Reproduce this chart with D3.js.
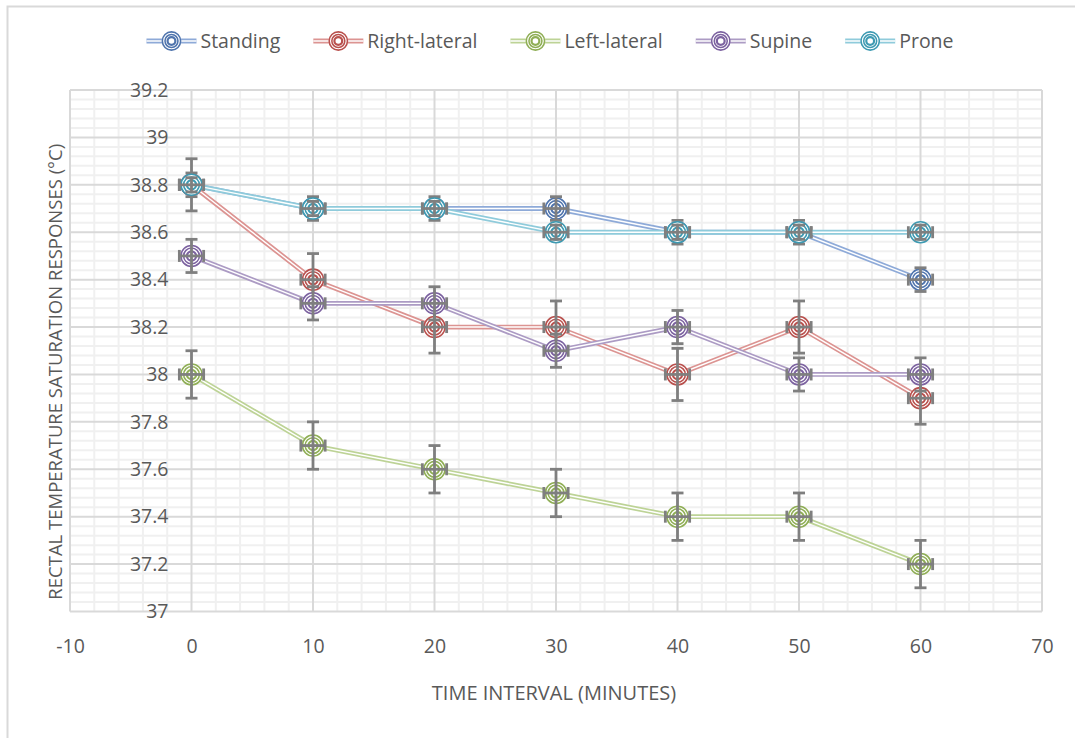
<!DOCTYPE html>
<html>
<head>
<meta charset="utf-8">
<script src="https://cdn.jsdelivr.net/npm/d3@7/dist/d3.min.js"></script>
<style>
  html, body { margin: 0; padding: 0; background: #fff; }
  svg { display: block; font-family: "Open Sans", "Liberation Sans", sans-serif; }
</style>
</head>
<body>
<svg id="chart" width="1075" height="738"></svg>
<script>
// Time points (minutes)
const minutes = [0, 10, 20, 30, 40, 50, 60];

// Mean rectal temperature per posture (°C)
const standing     = [38.8, 38.7, 38.7, 38.7, 38.6, 38.6, 38.4];
const rightLateral = [38.8, 38.4, 38.2, 38.2, 38.0, 38.2, 37.9];
const leftLateral  = [38.0, 37.7, 37.6, 37.5, 37.4, 37.4, 37.2];
const supine       = [38.5, 38.3, 38.3, 38.1, 38.2, 38.0, 38.0];
const prone        = [38.8, 38.7, 38.7, 38.6, 38.6, 38.6, 38.6];

// Vertical error (±°C) per posture, horizontal error (±minutes)
const yErrors = [0.05, 0.11, 0.10, 0.07, 0.03];
const xError = 1;

const seriesNames = ["Standing", "Right-lateral", "Left-lateral", "Supine", "Prone"];
const seriesValues = [standing, rightLateral, leftLateral, supine, prone];
const lineColors   = ["#8eaad8", "#dc9492", "#bdd396", "#ac9bc4", "#8fcbdb"];
const markerColors = ["#4f74ad", "#b9504d", "#8fae55", "#7c62a0", "#3e9ab2"];

const xTicks = ["-10", "0", "10", "20", "30", "40", "50", "60", "70"];
const yTicks = ["37", "37.2", "37.4", "37.6", "37.8", "38", "38.2", "38.4", "38.6", "38.8", "39", "39.2"];

const xTitle = "TIME INTERVAL (MINUTES)";
const yTitle = "RECTAL TEMPERATURE SATURATION RESPONSES (°C)";

const series = seriesNames.map((name, i) => ({
  name,
  err: yErrors[i],
  line: lineColors[i],
  marker: markerColors[i],
  points: minutes.map((m, j) => ({ x: m, y: seriesValues[i][j] }))
}));

const svg = d3.select("#chart");
const W = 1075, H = 738;
const plot = { left: 70, right: 1042, top: 90, bottom: 611.5 };

const x = d3.scaleLinear().domain([-10, 70]).range([plot.left, plot.right]);
const y = d3.scaleLinear().domain([37, 39.2]).range([plot.bottom, plot.top]);

// Chart frame
svg.append("rect")
  .attr("x", 7.5).attr("y", 6.5)
  .attr("width", W + 20).attr("height", H + 20)
  .attr("fill", "#fff").attr("stroke", "#d9d9d9").attr("stroke-width", 2);

// Minor gridlines
const grid = svg.append("g");
const minorX = d3.range(-10, 70.001, 2).filter(v => v % 10 !== 0);
const minorY = d3.range(0, 56).map(i => 37 + i * 0.04).filter((v, i) => i % 5 !== 0);
grid.selectAll(".mx").data(minorX).join("line")
  .attr("x1", d => x(d)).attr("x2", d => x(d))
  .attr("y1", plot.top).attr("y2", plot.bottom)
  .attr("stroke", "#f0f0f0").attr("stroke-width", 2);
grid.selectAll(".my").data(minorY).join("line")
  .attr("x1", plot.left).attr("x2", plot.right)
  .attr("y1", d => y(d)).attr("y2", d => y(d))
  .attr("stroke", "#f0f0f0").attr("stroke-width", 2);

// Major gridlines
grid.selectAll(".Mx").data(xTicks).join("line")
  .attr("x1", d => x(+d)).attr("x2", d => x(+d))
  .attr("y1", plot.top).attr("y2", plot.bottom)
  .attr("stroke", "#d9d9d9").attr("stroke-width", 2);
grid.selectAll(".My").data(yTicks).join("line")
  .attr("x1", plot.left).attr("x2", plot.right)
  .attr("y1", d => y(+d)).attr("y2", d => y(+d))
  .attr("stroke", "#d9d9d9").attr("stroke-width", 2);

// Axes (labels only; the vertical axis crosses at x = 0)
const tickFont = "19.5px";
const yAxis = svg.append("g")
  .attr("transform", `translate(${x(0)},0)`)
  .call(d3.axisLeft(y).tickValues(yTicks.map(Number)).tickFormat((d, i) => yTicks[i]).tickSize(0).tickPadding(23));
const xAxis = svg.append("g")
  .attr("transform", `translate(0,${plot.bottom})`)
  .call(d3.axisBottom(x).tickValues(xTicks.map(Number)).tickFormat((d, i) => xTicks[i]).tickSize(0).tickPadding(28));
[yAxis, xAxis].forEach(a => {
  a.select(".domain").remove();
  a.selectAll("text").attr("fill", "#595959").style("font-size", tickFont).style("font-family", "Open Sans");
});

// Axis titles
svg.append("text")
  .attr("x", (plot.left + plot.right) / 2 - 2).attr("y", 700)
  .attr("text-anchor", "middle").attr("fill", "#595959")
  .style("font-size", "20px").text(xTitle);
svg.append("text")
  .attr("transform", `translate(62,${(plot.top + plot.bottom) / 2 + 21}) rotate(-90)`)
  .attr("text-anchor", "middle").attr("fill", "#595959")
  .style("font-size", "18.5px").text(yTitle);

// Double-stroke helpers
function doubleLine(sel, color, width) {
  sel.attr("fill", "none").attr("stroke", color).attr("stroke-width", width);
}
function drawMarker(g, cx, cy, color, r) {
  g.append("circle").attr("cx", cx).attr("cy", cy).attr("r", r)
    .attr("fill", "#fff").attr("stroke", color).attr("stroke-width", 4.2);
  g.append("circle").attr("cx", cx).attr("cy", cy).attr("r", r)
    .attr("fill", "none").attr("stroke", "#fff").attr("stroke-width", 1.1);
  g.append("circle").attr("cx", cx).attr("cy", cy).attr("r", r * 0.5)
    .attr("fill", "none").attr("stroke", color).attr("stroke-width", 2.2);
}

const line = d3.line().x(d => x(d.x)).y(d => y(d.y));
const layer = svg.append("g");

series.forEach(s => {
  const g = layer.append("g");
  g.append("path").datum(s.points).attr("d", line).call(doubleLine, s.line, 4.8);
  g.append("path").datum(s.points).attr("d", line).call(doubleLine, "#fff", 1.4);

  s.points.forEach(p => drawMarker(g, x(p.x), y(p.y), s.marker, 9.2));

  // Error bars
  const eb = g.append("g").attr("stroke", "#7f7f7f").attr("stroke-width", 2.8).attr("fill", "none");
  const cap = 6;
  s.points.forEach(p => {
    const cx = x(p.x), cy = y(p.y);
    const y0 = y(p.y - s.err), y1 = y(p.y + s.err);
    const x0 = x(p.x - xError), x1 = x(p.x + xError);
    eb.append("line").attr("x1", cx).attr("x2", cx).attr("y1", y0).attr("y2", y1);
    eb.append("line").attr("x1", cx - cap).attr("x2", cx + cap).attr("y1", y0).attr("y2", y0);
    eb.append("line").attr("x1", cx - cap).attr("x2", cx + cap).attr("y1", y1).attr("y2", y1);
    eb.append("line").attr("x1", x0).attr("x2", x1).attr("y1", cy).attr("y2", cy);
    eb.append("line").attr("x1", x0).attr("x2", x0).attr("y1", cy - cap).attr("y2", cy + cap);
    eb.append("line").attr("x1", x1).attr("x2", x1).attr("y1", cy - cap).attr("y2", cy + cap);
  });
});

// Legend
const legend = svg.append("g");
const legendY = 41;
const items = [];
series.forEach(s => {
  const item = legend.append("g");
  item.append("line").attr("x1", 0).attr("x2", 50).attr("y1", legendY).attr("y2", legendY).call(doubleLine, s.line, 4.8);
  item.append("line").attr("x1", 0).attr("x2", 50).attr("y1", legendY).attr("y2", legendY).call(doubleLine, "#fff", 1.4);
  drawMarker(item, 25, legendY, s.marker, 7.8);
  const t = item.append("text").attr("x", 54).attr("y", legendY).attr("dy", "0.35em")
    .attr("fill", "#595959").style("font-size", "19.5px").text(s.name);
  const w = 54 + t.node().getComputedTextLength();
  items.push({ item, w });
});
const gap = 33;
const total = d3.sum(items, d => d.w) + gap * (items.length - 1);
let cursor = 550 - total / 2;
items.forEach(d => {
  d.item.attr("transform", `translate(${cursor},0)`);
  cursor += d.w + gap;
});
</script>
</body>
</html>
